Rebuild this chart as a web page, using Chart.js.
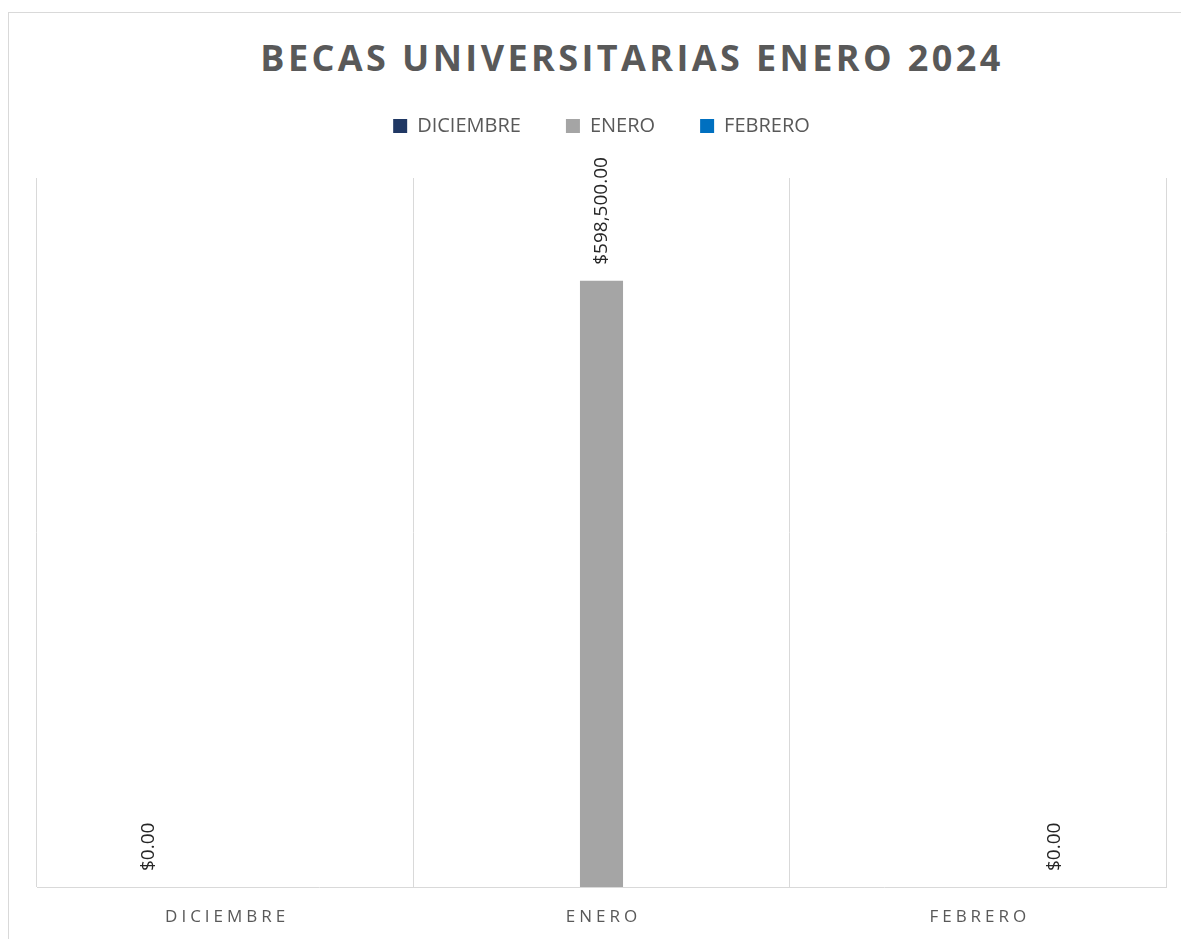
<!DOCTYPE html>
<html lang="es">
<head>
<meta charset="utf-8">
<title>Becas universitarias enero 2024</title>
<script src="https://cdn.jsdelivr.net/npm/chart.js@4.4.1/dist/chart.umd.min.js"></script>
<style>
  html, body { margin: 0; padding: 0; background: #fff; overflow: hidden; }
  #frame { position: absolute; left: 8px; top: 12px; width: 1300px; height: 1100px; border: 1px solid #d9d9d9; }
  #title {
    position: absolute; left: 0; top: 40px; width: 1264px; margin: 0;
    text-align: center; font-family: "Open Sans"; font-weight: 700;
    font-size: 36px; line-height: 36px; letter-spacing: 3.4px; color: #595959;
  }
  #chart { position: absolute; left: 0; top: 0; }
</style>
</head>
<body>
<div id="frame"></div>
<h1 id="title">BECAS UNIVERSITARIAS ENERO 2024</h1>
<canvas id="chart" width="1181" height="939"></canvas>
<script>
// categories on the x axis
const categories = ["DICIEMBRE", "ENERO", "FEBRERO"];

// one series per month (Excel layout: each month only has its own value)
const seriesNames = ["DICIEMBRE", "ENERO", "FEBRERO"];
const diciembre = [0, null, null];
const enero = [null, 598500, null];
const febrero = [null, null, 0];

const yMax = 700000;
const seriesColors = ["#203864", "#a5a5a5", "#0070c0"];

const fontFamily = "'Open Sans', sans-serif";

function money(v) {
  return "$" + v.toLocaleString("en-US", { minimumFractionDigits: 2, maximumFractionDigits: 2 });
}

// value labels, rotated, above each bar
const barLabels = {
  id: "barLabels",
  afterDatasetsDraw(chart) {
    const ctx = chart.ctx;
    ctx.save();
    ctx.font = "19px " + fontFamily;
    ctx.fillStyle = "#262626";
    ctx.textAlign = "left";
    ctx.textBaseline = "middle";
    chart.data.datasets.forEach((ds, i) => {
      chart.getDatasetMeta(i).data.forEach((bar, j) => {
        const v = ds.data[j];
        if (v === null || v === undefined) return;
        ctx.save();
        ctx.translate(bar.x, bar.y - 16);
        ctx.rotate(-Math.PI / 2);
        ctx.fillText(money(v), 0, 0);
        ctx.restore();
      });
    });
    ctx.restore();
  }
};

// category labels with letter spacing (Chart.js ticks have no letterSpacing)
const spacedTicks = {
  id: "spacedTicks",
  afterDraw(chart) {
    const x = chart.scales.x;
    const ctx = chart.ctx;
    ctx.save();
    ctx.font = "17px " + fontFamily;
    ctx.letterSpacing = "4px";
    ctx.fillStyle = "#595959";
    ctx.textAlign = "center";
    ctx.textBaseline = "middle";
    categories.forEach((c, i) => {
      ctx.fillText(c, x.getPixelForValue(i) + 2, x.top + 30);
    });
    ctx.restore();
  }
};

const ctx = document.getElementById("chart").getContext("2d");

const chart = new Chart(ctx, {
  type: "bar",
  data: {
    labels: categories,
    datasets: [
      { label: seriesNames[0], data: diciembre, backgroundColor: seriesColors[0], borderWidth: 0 },
      { label: seriesNames[1], data: enero, backgroundColor: seriesColors[1], borderWidth: 0 },
      { label: seriesNames[2], data: febrero, backgroundColor: seriesColors[2], borderWidth: 0 },
    ],
  },
  options: {
    responsive: false,
    devicePixelRatio: 1,
    animation: false,
    categoryPercentage: 0.613,
    barPercentage: 0.56,
    layout: { padding: { left: 37, right: 15, top: 71, bottom: 0 } },
    plugins: {
      legend: {
        position: "top",
        labels: {
          boxWidth: 14,
          boxHeight: 14,
          padding: 45,
          color: "#595959",
          font: { family: fontFamily, size: 20 },
        },
      },
      tooltip: { enabled: false },
    },
    scales: {
      x: {
        position: "bottom",
        grid: { display: true, offset: true, color: "#d9d9d9", lineWidth: 1, drawTicks: false },
        border: { display: true, color: "#d9d9d9", width: 1 },
        ticks: { display: false },
        afterFit: (s) => { s.height = 52; },
      },
      xTop: {
        type: "category",
        position: "top",
        grid: { display: false },
        border: { display: false },
        ticks: { display: false },
        afterFit: (s) => { s.height = 32; },
      },
      y: {
        display: false,
        min: 0,
        max: yMax,
      },
    },
  },
  plugins: [barLabels, spacedTicks],
});
</script>
</body>
</html>
